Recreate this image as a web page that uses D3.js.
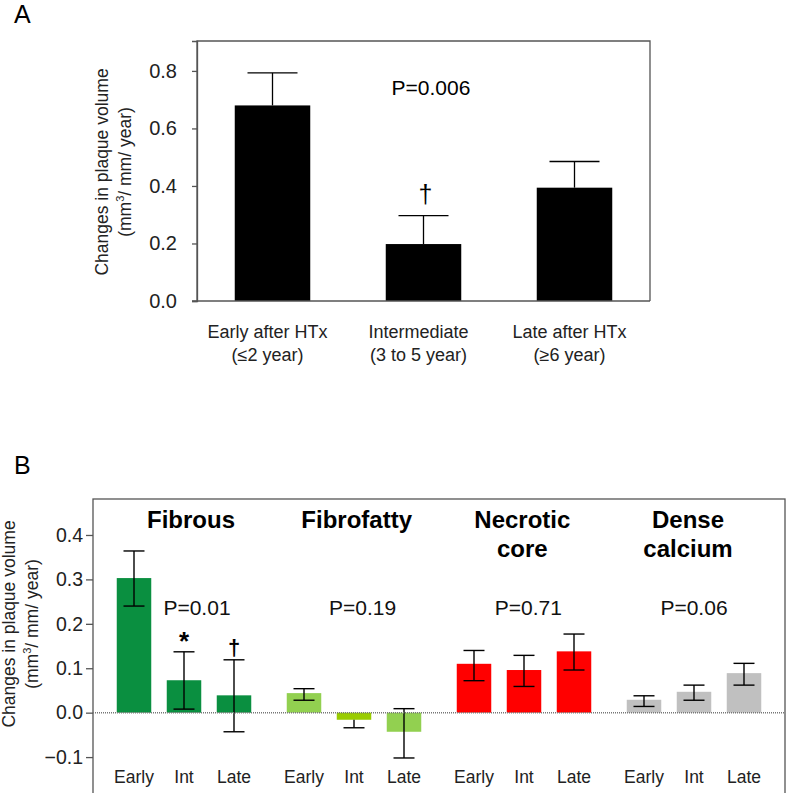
<!DOCTYPE html>
<html>
<head>
<meta charset="utf-8">
<script src="https://cdn.jsdelivr.net/npm/d3@7"></script>
<style>
  html, body { margin: 0; padding: 0; background: #fff; }
  svg { display: block; font-family: "Liberation Sans", Arial, sans-serif; }
</style>
</head>
<body>
<svg id="chart" width="787" height="793"></svg>
<script>
// ---------- Panel A data ----------
const catsA = ["Early", "Intermediate", "Late"];
const labelsA1 = ["Early after HTx", "Intermediate", "Late after HTx"];
const labelsA2 = ["(\u22642 year)", "(3 to 5 year)", "(\u22656 year)"];
const valuesA = [0.68, 0.198, 0.394];
const errTopA = [0.793, 0.297, 0.485];
const marksA = ["", "\u2020", ""];
const ticksA = [0, 0.2, 0.4, 0.6, 0.8];
const pValueA = "P=0.006";

// ---------- Panel B data ----------
const groupsB = ["Fibrous", "Fibrofatty", "Necrotic core", "Dense calcium"];
const titlesB = [["Fibrous"], ["Fibrofatty"], ["Necrotic", "core"], ["Dense", "calcium"]];
const periodsB = ["Early", "Int", "Late"];
const pValuesB = ["P=0.01", "P=0.19", "P=0.71", "P=0.06"];
const fibrous = [0.303, 0.073, 0.039];
const fibrofatty = [0.044, -0.016, -0.043];
const necrotic = [0.110, 0.096, 0.138];
const dense = [0.029, 0.047, 0.089];
const hiB = [[0.364, 0.137, 0.119], [0.054, null, 0.009], [0.140, 0.129, 0.177], [0.038, 0.062, 0.111]];
const loB = [[0.240, 0.008, -0.043], [0.028, -0.034, -0.102], [0.072, 0.059, 0.096], [0.014, 0.028, 0.062]];
const marksB = [["", "*", "\u2020"], ["", "", ""], ["", "", ""], ["", "", ""]];
const colorsB = [["#0a8f40", "#0a8f40", "#0a8f40"], ["#92d050", "#99cc00", "#92d050"], ["#ff0000", "#ff0000", "#ff0000"], ["#c0c0c0", "#c0c0c0", "#c0c0c0"]];
const ticksB = [-0.1, 0.0, 0.1, 0.2, 0.3, 0.4];
const seriesB = [fibrous, fibrofatty, necrotic, dense];

const svg = d3.select("#chart");
const txt = "#222";

// ================= Panel A =================
const A = { left: 197, right: 650, top: 41, bottom: 301 };
const xA = d3.scaleBand().domain(catsA).range([A.left, A.right]).paddingInner(0.5).paddingOuter(0.25);
const yA = d3.scaleLinear().domain([0, 0.904]).range([A.bottom, A.top]);

svg.append("text").attr("x", 14).attr("y", 23).attr("font-size", 25).attr("fill", "#000").text("A");

svg.append("path")
  .attr("d", `M${A.left},${A.bottom}V${A.top}H${A.right}V${A.bottom}`)
  .attr("fill", "none").attr("stroke", "#555").attr("stroke-width", 1.3);

const gA = svg.append("g");
catsA.forEach((c, i) => {
  const x = xA(c), w = xA.bandwidth(), cx = x + w / 2;
  gA.append("line").attr("x1", cx).attr("x2", cx).attr("y1", yA(valuesA[i])).attr("y2", yA(errTopA[i]))
    .attr("stroke", "#000").attr("stroke-width", 1.3);
  gA.append("line").attr("x1", cx - 25).attr("x2", cx + 25).attr("y1", yA(errTopA[i])).attr("y2", yA(errTopA[i]))
    .attr("stroke", "#000").attr("stroke-width", 1.3);
  gA.append("rect").attr("x", x).attr("y", yA(valuesA[i])).attr("width", w)
    .attr("height", yA(0) - yA(valuesA[i])).attr("fill", "#000");
  if (marksA[i]) {
    gA.append("text").attr("x", cx + 2).attr("y", yA(errTopA[i]) - 13).attr("text-anchor", "middle")
      .attr("font-size", 25).attr("fill", "#000").text(marksA[i]);
  }
  gA.append("text").attr("x", cx - 5).attr("y", 338).attr("text-anchor", "middle")
    .attr("font-size", 18).attr("fill", txt).text(labelsA1[i]);
  gA.append("text").attr("x", cx - 5).attr("y", 361).attr("text-anchor", "middle")
    .attr("font-size", 18).attr("fill", txt).text(labelsA2[i]);
});

const axA = svg.append("g").attr("transform", `translate(${A.left},0)`)
  .call(d3.axisLeft(yA).tickValues(ticksA).tickFormat(d3.format(".1f")).tickSize(5).tickPadding(15));
axA.select(".domain").attr("stroke", "#555").attr("stroke-width", 1.3);
axA.selectAll(".tick line").attr("stroke", "#555").attr("stroke-width", 1.3);
axA.selectAll(".tick text").attr("font-size", 20).attr("fill", txt).attr("font-family", "Liberation Sans, Arial, sans-serif");
svg.append("line").attr("x1", A.left - 5).attr("x2", A.right).attr("y1", A.bottom).attr("y2", A.bottom)
  .attr("stroke", "#555").attr("stroke-width", 1.3);

svg.append("text").attr("x", 431).attr("y", 95).attr("text-anchor", "middle")
  .attr("font-size", 21).attr("fill", "#000").text(pValueA);

const ylabA = svg.append("g").attr("transform", `translate(108,172) rotate(-90)`);
ylabA.append("text").attr("text-anchor", "middle").attr("font-size", 17.5).attr("fill", txt).text("Changes in plaque volume");
const l2A = ylabA.append("text").attr("y", 23).attr("text-anchor", "middle").attr("font-size", 17.5).attr("fill", txt);
l2A.append("tspan").text("(mm");
l2A.append("tspan").attr("font-size", 11).attr("dy", -7).text("3");
l2A.append("tspan").attr("dy", 7).text("/ mm/ year)");

// ================= Panel B =================
const B = { left: 93, right: 785, top: 499, bottom: 792 };
const x0 = d3.scaleBand().domain(groupsB).range([99, 779]).padding(0);
const x1 = d3.scaleBand().domain(periodsB).range([10, 160]).paddingInner(0.31).paddingOuter(0.155);
const xText = d3.scalePoint().domain(groupsB).range([193, 690]);
const yB = d3.scaleLinear().domain([-0.1786, 0.481]).range([B.bottom, B.top]);

svg.append("text").attr("x", 14).attr("y", 474).attr("font-size", 25).attr("fill", "#000").text("B");

svg.append("rect").attr("x", B.left).attr("y", B.top).attr("width", B.right - B.left).attr("height", B.bottom - B.top + 4)
  .attr("fill", "none").attr("stroke", "#555").attr("stroke-width", 1.3);

const axB = svg.append("g").attr("transform", `translate(${B.left},0)`)
  .call(d3.axisLeft(yB).tickValues(ticksB).tickFormat(d3.format(".1f")).tickSize(7).tickPadding(3));
axB.select(".domain").remove();
axB.selectAll(".tick line").attr("stroke", "#555").attr("stroke-width", 1.3);
axB.selectAll(".tick text").attr("font-size", 19.5).attr("fill", txt).attr("font-family", "Liberation Sans, Arial, sans-serif");

const gB = svg.append("g");
groupsB.forEach((g, gi) => {
  const gx = x0(g);
  periodsB.forEach((p, pi) => {
    const v = seriesB[gi][pi];
    const x = gx + x1(p), w = x1.bandwidth(), cx = x + w / 2;
    gB.append("rect").attr("x", x).attr("y", yB(Math.max(0, v))).attr("width", w)
      .attr("height", Math.abs(yB(v) - yB(0))).attr("fill", colorsB[gi][pi]);
    gB.append("text").attr("x", cx).attr("y", 783).attr("text-anchor", "middle")
      .attr("font-size", 17.5).attr("fill", txt).text(p);
  });
});

svg.append("line").attr("x1", B.left).attr("x2", B.right).attr("y1", yB(0)).attr("y2", yB(0))
  .attr("stroke", "#777").attr("stroke-width", 1.5).attr("stroke-dasharray", "1,1");

groupsB.forEach((g, gi) => {
  const gx = x0(g);
  periodsB.forEach((p, pi) => {
    const v = seriesB[gi][pi];
    const cx = gx + x1(p) + x1.bandwidth() / 2;
    const hi = hiB[gi][pi] === null ? v : hiB[gi][pi];
    const lo = loB[gi][pi];
    gB.append("line").attr("x1", cx).attr("x2", cx).attr("y1", yB(hi)).attr("y2", yB(lo))
      .attr("stroke", "#000").attr("stroke-width", 1.4);
    if (hiB[gi][pi] !== null) {
      gB.append("line").attr("x1", cx - 10.5).attr("x2", cx + 10.5).attr("y1", yB(hi)).attr("y2", yB(hi))
        .attr("stroke", "#000").attr("stroke-width", 1.4);
    }
    gB.append("line").attr("x1", cx - 10.5).attr("x2", cx + 10.5).attr("y1", yB(lo)).attr("y2", yB(lo))
      .attr("stroke", "#000").attr("stroke-width", 1.4);
    const m = marksB[gi][pi];
    if (m === "*") {
      gB.append("text").attr("x", cx).attr("y", yB(hi) - 2).attr("text-anchor", "middle")
        .attr("font-size", 26).attr("font-weight", "bold").attr("fill", "#000").text(m);
    } else if (m) {
      gB.append("text").attr("x", cx).attr("y", yB(hi) - 5).attr("text-anchor", "middle")
        .attr("font-size", 22).attr("font-weight", "bold").attr("fill", "#000").text(m);
    }
  });
  const tc = xText(g);
  titlesB[gi].forEach((t, li) => {
    gB.append("text").attr("x", tc - 2).attr("y", 528 + li * 29).attr("text-anchor", "middle")
      .attr("font-size", 24).attr("font-weight", "bold").attr("fill", "#000").text(t);
  });
  gB.append("text").attr("x", tc + 4).attr("y", 615).attr("text-anchor", "middle")
    .attr("font-size", 21).attr("fill", "#111").text(pValuesB[gi]);
});

const ylabB = svg.append("g").attr("transform", `translate(15,624) rotate(-90)`);
ylabB.append("text").attr("text-anchor", "middle").attr("font-size", 17.5).attr("fill", txt).text("Changes in plaque volume");
const l2B = ylabB.append("text").attr("y", 23).attr("text-anchor", "middle").attr("font-size", 17.5).attr("fill", txt);
l2B.append("tspan").text("(mm");
l2B.append("tspan").attr("font-size", 11).attr("dy", -7).text("3");
l2B.append("tspan").attr("dy", 7).text("/ mm/ year)");
</script>
</body>
</html>
